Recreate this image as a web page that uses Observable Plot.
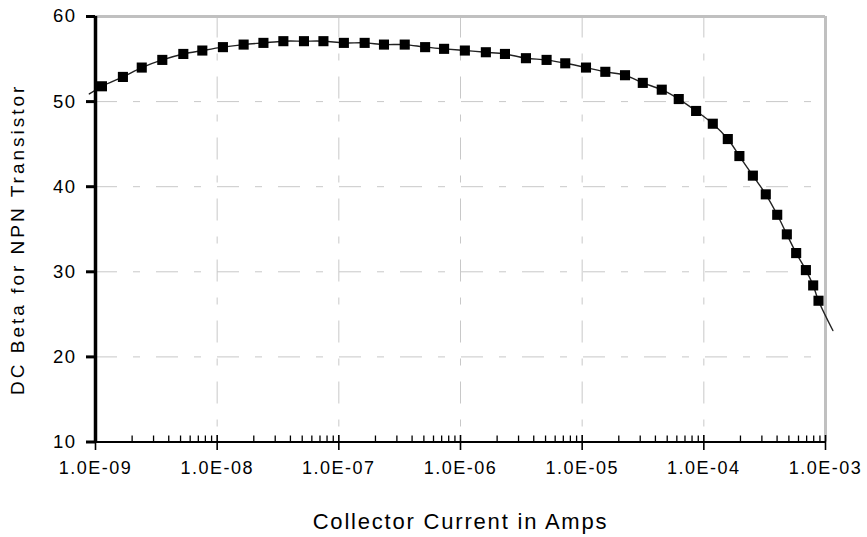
<!DOCTYPE html>
<html><head><meta charset="utf-8">
<script src="https://cdn.jsdelivr.net/npm/d3@7"></script>
<script src="https://cdn.jsdelivr.net/npm/@observablehq/plot@0.6"></script>
<style>body{margin:0;background:#fff}</style>
</head><body><div id="chart"></div>
<script>
// Measured data (collector current in A, DC beta)
const current = [1.13e-9, 1.68e-9, 2.4e-9, 3.54e-9, 5.27e-9, 7.55e-9, 1.115e-8, 1.65e-8, 2.4e-8, 3.5e-8,
  5.17e-8, 7.47e-8, 1.10e-7, 1.63e-7, 2.35e-7, 3.48e-7, 5.12e-7, 7.33e-7, 1.086e-6, 1.616e-6,
  2.32e-6, 3.45e-6, 5.10e-6, 7.26e-6, 1.075e-5, 1.55e-5, 2.25e-5, 3.15e-5, 4.51e-5, 6.22e-5,
  8.64e-5, 1.185e-4, 1.574e-4, 1.96e-4, 2.53e-4, 3.23e-4, 4.01e-4, 4.81e-4, 5.74e-4, 6.90e-4,
  7.92e-4, 8.76e-4];
const beta = [51.8, 52.9, 54.0, 54.9, 55.6, 56.0, 56.4, 56.7, 56.9, 57.1,
  57.1, 57.1, 56.9, 56.9, 56.7, 56.7, 56.4, 56.2, 56.0, 55.8,
  55.6, 55.1, 54.9, 54.5, 54.0, 53.5, 53.1, 52.2, 51.4, 50.3,
  48.9, 47.4, 45.6, 43.6, 41.3, 39.1, 36.7, 34.4, 32.2, 30.2,
  28.4, 26.6];
// Trend line extends beyond the data on both sides
const trendCurrent = [8.9e-10, 1.15e-3];
const trendBeta = [50.9, 23.1];

const xTicks = [1e-9, 1e-8, 1e-7, 1e-6, 1e-5, 1e-4, 1e-3];
const xTickLabels = ["1.0E-09", "1.0E-08", "1.0E-07", "1.0E-06", "1.0E-05", "1.0E-04", "1.0E-03"];
const yTicks = [10, 20, 30, 40, 50, 60];
const xTitle = "Collector Current in Amps";
const yTitle = "DC Beta for NPN Transistor";

const points = current.map((c, i) => ({current: c, beta: beta[i]}));
const trend = [{current: trendCurrent[0], beta: trendBeta[0]}, ...points, {current: trendCurrent[1], beta: trendBeta[1]}];
const minorTicks = xTicks.slice(0, -1).flatMap(d => d3.range(2, 10).map(k => d * k));
const labelOf = new Map(xTicks.map((t, i) => [t, xTickLabels[i]]));

const grid = "#c8c8c8";
const dash = "22,16,7,16";

const svg = Plot.plot({
  width: 867, height: 537,
  marginLeft: 95, marginRight: 42, marginTop: 16, marginBottom: 95.5,
  style: {fontFamily: "'Liberation Sans', Arial, sans-serif", color: "#000", background: "#fff"},
  x: {type: "log", domain: [1e-9, 1e-3], axis: null},
  y: {domain: [10, 60], axis: null},
  marks: [
    Plot.ruleY(yTicks.slice(1, -1), {stroke: grid, strokeWidth: 1, strokeDasharray: dash}),
    Plot.ruleX(xTicks.slice(1, -1), {y1: 10, y2: 60, stroke: grid, strokeWidth: 1, strokeDasharray: dash, strokeDashoffset: 23}),
    Plot.ruleY([60], {stroke: "#c0c0c0", strokeWidth: 3}),
    Plot.ruleX([1e-3], {stroke: "#c0c0c0", strokeWidth: 3}),
    Plot.line(trend, {x: "current", y: "beta", curve: "catmull-rom", stroke: "#222", strokeWidth: 1.4}),
    Plot.dot(points, {x: "current", y: "beta", symbol: "square", r: 5.7, fill: "#000", stroke: "none"}),
    Plot.ruleY([10], {stroke: "#000", strokeWidth: 2}),
    Plot.ruleX(xTicks, {stroke: "#000", strokeWidth: 1.6, insetTop: 419, insetBottom: -8.5}),
    Plot.ruleX(minorTicks, {stroke: "#000", strokeWidth: 1.3, insetTop: 419.5}),
    Plot.ruleX([1e-9], {stroke: "#000", strokeWidth: 3.5}),
    Plot.axisY({ticks: yTicks, tickSize: 9, strokeWidth: 3, tickPadding: 10, fontSize: 18.5, tickFormat: d => String(d), label: null}),
    Plot.axisX({ticks: xTicks, tickSize: 0, tickPadding: 19, fontSize: 18, tickFormat: d => labelOf.get(d), label: null}),
    Plot.text([xTitle], {text: d => d, frameAnchor: "bottom", dy: 71.5, lineAnchor: "top", textAnchor: "middle", fontSize: 22, fill: "#000"}),
    Plot.text([yTitle], {text: d => d, frameAnchor: "left", dx: -78, dy: 10, rotate: -90, lineAnchor: "middle", textAnchor: "middle", fontSize: 19, fill: "#000"})
  ]
});

d3.select(svg).selectAll("text").each(function() {
  const t = this.textContent;
  if (t === xTitle) this.style.letterSpacing = "1.8px";
  else if (t === yTitle) this.style.letterSpacing = "3px";
  else this.style.letterSpacing = "1.5px";
});
document.getElementById("chart").appendChild(svg);
</script>
</body></html>
